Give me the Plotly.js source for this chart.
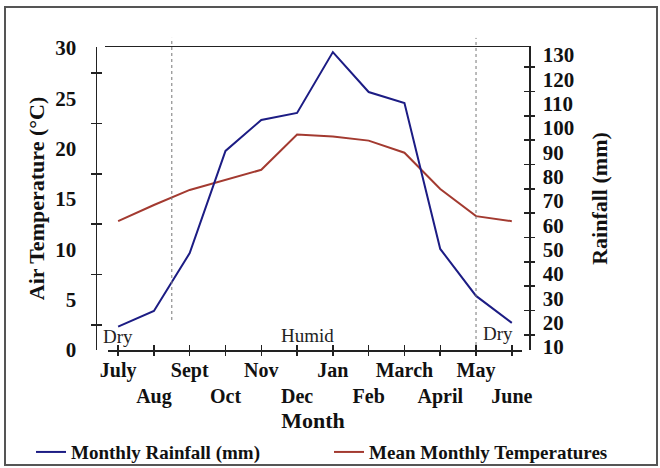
<!DOCTYPE html>
<html>
<head>
<meta charset="utf-8">
<script src="https://cdn.plot.ly/plotly-3.0.1.min.js"></script>
<style>
  html, body { margin: 0; padding: 0; background: #fff; }
  #wrap { position: relative; width: 660px; height: 468px; overflow: hidden; }
  #chart { position: absolute; left: 0; top: 0; width: 660px; height: 468px; }
  #frame { position: absolute; left: 4px; top: 6px; width: 650px; height: 456px;
           border: 2px solid #555; pointer-events: none; }
</style>
</head>
<body>
<div id="wrap">
  <div id="chart"></div>
  <div id="frame"></div>
</div>
<script>
// ---- data ----
const months = ["July","Aug","Sept","Oct","Nov","Dec","Jan","Feb","March","April","May","June"];
const rainfall = [18.4, 24.8, 48.6, 90.6, 103.3, 106.2, 131.2, 114.8, 110.3, 50.3, 31.0, 19.9];
const temperature = [12.8, 14.4, 15.9, 16.9, 17.9, 21.4, 21.2, 20.8, 19.6, 16.0, 13.3, 12.8];
const tempTicks = [0, 5, 10, 15, 20, 25, 30];
const rainTicks = [10, 20, 30, 40, 50, 60, 70, 80, 90, 100, 110, 120, 130];
const seasonLabels = ["Dry", "Humid", "Dry"];

// ---- derived helpers ----
const idx = months.map((m, i) => i);
const monthText = months.map((m, i) => (i % 2 === 0 ? m : "<br>" + m));
const tempMid = tempTicks.slice(0, -1).map((v, i) => (v + tempTicks[i + 1]) / 2);
const rainMid = rainTicks.slice(0, -1).map((v, i) => (v + rainTicks[i + 1]) / 2);

const serif = "Liberation Serif, Times New Roman, serif";
const axisCol = "#222";
const tempRange = [0, 30.1];
const rainRange = [8.77, 133.3];

const traces = [
  { x: months, y: rainfall, type: "scatter", mode: "lines", name: "Monthly Rainfall (mm)",
    xaxis: "x", yaxis: "y2", legend: "legend", line: { color: "#1c1c84", width: 2 } },
  { x: months, y: temperature, type: "scatter", mode: "lines", name: "Mean Monthly Temperatures",
    xaxis: "x", yaxis: "y", legend: "legend2", line: { color: "#a33a30", width: 2 } },
  // carriers for decorative tick axes
  { x: [null], y: [null], xaxis: "x2", yaxis: "y", showlegend: false, hoverinfo: "skip" },
  { x: [null], y: [null], xaxis: "x3", yaxis: "y", showlegend: false, hoverinfo: "skip" },
  { x: [null], y: [null], xaxis: "x", yaxis: "y3", showlegend: false, hoverinfo: "skip" },
  { x: [null], y: [null], xaxis: "x", yaxis: "y4", showlegend: false, hoverinfo: "skip" },
  { x: [null], y: [null], xaxis: "x", yaxis: "y5", showlegend: false, hoverinfo: "skip" },
  { x: [null], y: [null], xaxis: "x", yaxis: "y6", showlegend: false, hoverinfo: "skip" }
];

const tickFont = { family: serif, size: 21, color: "#111", weight: "bold" };
const xTickFont = { family: serif, size: 20, color: "#111", weight: "bold" };
const titleFont = { family: serif, size: 22, color: "#111", weight: "bold" };
const legendFont = { family: serif, size: 19, color: "#111", weight: "bold" };
const noteFont = { family: serif, size: 19, color: "#222" };

const layout = {
  width: 660, height: 468,
  margin: { l: 97, r: 131, t: 47, b: 118, autoexpand: false },
  paper_bgcolor: "#fff", plot_bgcolor: "rgba(0,0,0,0)",
  showlegend: true,
  legend: {
    orientation: "h", xref: "container", yref: "container",
    x: 0.047, xanchor: "left", y: 0.034, yanchor: "middle",
    font: legendFont, bgcolor: "rgba(0,0,0,0)"
  },
  legend2: {
    orientation: "h", xref: "container", yref: "container",
    x: 0.4985, xanchor: "left", y: 0.034, yanchor: "middle",
    font: legendFont, bgcolor: "rgba(0,0,0,0)"
  },
  xaxis: {
    type: "category", range: [-0.59, 11.48], showgrid: false, zeroline: false, showline: false,
    tickmode: "array", tickvals: months, ticktext: monthText, tickangle: 0, automargin: false,
    ticks: "outside", ticklen: 5, tickwidth: 1.5, tickcolor: axisCol,
    tickfont: xTickFont, ticklabelstandoff: -3, anchor: "y",
    title: { text: "Month", font: titleFont, standoff: 9 }
  },
  xaxis2: {
    type: "linear", domain: [0.0255, 0.9838], range: [-0.279, 11.28], anchor: "y",
    showgrid: false, zeroline: false, showline: true, linecolor: axisCol, linewidth: 1.5,
    tickmode: "array", tickvals: idx, showticklabels: false, automargin: false,
    ticks: "inside", ticklen: 5, tickwidth: 1.5, tickcolor: axisCol
  },
  xaxis3: {
    type: "linear", domain: [0.0185, 1], range: [0, 1], anchor: "y", side: "top",
    showgrid: false, zeroline: false, showline: true, linecolor: axisCol, linewidth: 1.5,
    ticks: "", showticklabels: false, automargin: false
  },
  yaxis: {
    range: tempRange, showgrid: false, zeroline: false, automargin: false,
    showline: true, linecolor: axisCol, linewidth: 1.5,
    tickmode: "array", tickvals: tempTicks, ticks: "",
    tickfont: tickFont, ticklabelstandoff: 15,
    title: { text: "Air Temperature (°C)", font: titleFont, standoff: 4 }
  },
  yaxis2: {
    range: rainRange, overlaying: "y", side: "right", anchor: "x", automargin: false,
    showgrid: false, zeroline: false,
    showline: true, linecolor: axisCol, linewidth: 1.5,
    tickmode: "array", tickvals: rainTicks, ticks: "",
    tickfont: tickFont, ticklabelstandoff: 8,
    title: { text: "Rainfall (mm)", font: titleFont, standoff: 18 }
  },
  yaxis3: {
    range: tempRange, overlaying: "y", side: "left", showgrid: false, zeroline: false,
    showline: false, tickmode: "array", tickvals: tempMid, showticklabels: false, automargin: false,
    ticks: "outside", ticklen: 5, tickwidth: 1.5, tickcolor: axisCol
  },
  yaxis4: {
    range: tempRange, overlaying: "y", side: "left", showgrid: false, zeroline: false,
    showline: false, tickmode: "array", tickvals: tempMid, showticklabels: false, automargin: false,
    ticks: "inside", ticklen: 5, tickwidth: 1.5, tickcolor: axisCol
  },
  yaxis5: {
    range: rainRange, overlaying: "y", side: "right", showgrid: false, zeroline: false,
    showline: false, tickmode: "array", tickvals: rainMid, showticklabels: false, automargin: false,
    ticks: "outside", ticklen: 5, tickwidth: 1.5, tickcolor: axisCol
  },
  yaxis6: {
    range: rainRange, overlaying: "y", side: "right", showgrid: false, zeroline: false,
    showline: false, tickmode: "array", tickvals: rainMid, showticklabels: false, automargin: false,
    ticks: "inside", ticklen: 5, tickwidth: 1.5, tickcolor: axisCol
  },
  shapes: [
    { type: "line", xref: "x", yref: "paper", x0: 1.5, x1: 1.5, y0: 0.099, y1: 1.03,
      line: { color: "#777", width: 1, dash: "dot" } },
    { type: "line", xref: "x", yref: "paper", x0: 10, x1: 10, y0: 0.0165, y1: 1.03,
      line: { color: "#777", width: 1, dash: "dot" } }
  ],
  annotations: [
    { text: seasonLabels[0], xref: "x", yref: "paper", x: 0, y: 0.046, showarrow: false,
      xanchor: "center", yanchor: "middle", font: noteFont },
    { text: seasonLabels[1], xref: "x", yref: "paper", x: 5.28, y: 0.049, showarrow: false,
      xanchor: "center", yanchor: "middle", font: noteFont },
    { text: seasonLabels[2], xref: "x", yref: "paper", x: 10.61, y: 0.056, showarrow: false,
      xanchor: "center", yanchor: "middle", font: noteFont }
  ]
};

Plotly.newPlot("chart", traces, layout, { staticPlot: true, displayModeBar: false });
</script>
</body>
</html>
